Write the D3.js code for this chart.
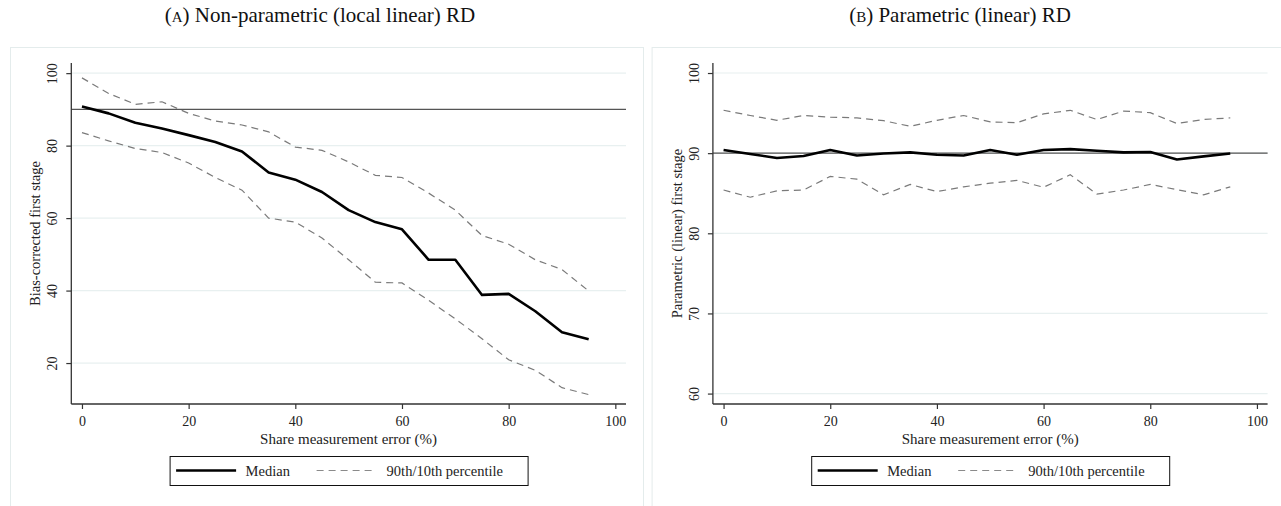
<!DOCTYPE html>
<html lang="en">
<head>
<meta charset="UTF-8">
<title>First stage under measurement error</title>
<script src="https://d3js.org/d3.v7.min.js"></script>
<style>
body { margin: 0; background: #fff; }
svg { display: block; }
</style>
</head>
<body>
<svg id="chart" width="1281" height="506"></svg>
<script>
// share of measurement error (%)
const shares = [0, 5, 10, 15, 20, 25, 30, 35, 40, 45, 50, 55, 60, 65, 70, 75, 80, 85, 90, 95];

// panel A: non-parametric (local linear) RD
const medianA = [90.8, 88.9, 86.3, 84.7, 82.9, 81.0, 78.4, 72.6, 70.6, 67.2, 62.2, 58.9, 56.9, 48.5, 48.5, 38.8, 39.1, 34.3, 28.5, 26.6];
const p90A = [98.7, 94.4, 91.4, 92.1, 88.9, 86.8, 85.7, 83.8, 79.6, 78.7, 75.5, 71.8, 71.2, 66.9, 62.2, 55.2, 52.8, 48.5, 45.8, 39.9];
const p10A = [83.6, 81.3, 79.2, 78.1, 75.2, 71.2, 67.7, 60.0, 58.9, 54.5, 48.5, 42.3, 42.1, 37.3, 32.2, 26.7, 20.9, 18.0, 13.2, 11.3];

// panel B: parametric (linear) RD
const medianB = [90.4, 89.9, 89.4, 89.65, 90.4, 89.7, 89.95, 90.1, 89.8, 89.7, 90.4, 89.8, 90.4, 90.5, 90.3, 90.1, 90.15, 89.2, 89.6, 89.95];
const p90B = [95.35, 94.7, 94.1, 94.7, 94.5, 94.4, 94.05, 93.35, 94.1, 94.7, 93.9, 93.8, 94.9, 95.35, 94.2, 95.25, 95.05, 93.7, 94.2, 94.4];
const p10B = [85.4, 84.5, 85.3, 85.4, 87.1, 86.75, 84.8, 86.1, 85.2, 85.8, 86.25, 86.6, 85.75, 87.3, 84.9, 85.4, 86.1, 85.45, 84.8, 85.8];

const xTicks = [0, 20, 40, 60, 80, 100];
const yTicksA = [20, 40, 60, 80, 100];
const yTicksB = [60, 70, 80, 90, 100];
const refLine = 90;

const SERIF = '"Liberation Serif", "Times New Roman", "DejaVu Serif", serif';

const svg = d3.select('#chart').attr('font-family', SERIF);

let drawPanel = (opts) => {
    const dx = opts.dx;
    const g = svg.append('g').attr('transform', 'translate(' + dx + ',0)');

    // outer frame
    g.append('rect')
        .attr('x', 10.5).attr('y', 47.5)
        .attr('width', 633).attr('height', 470)
        .attr('fill', 'none').attr('stroke', '#e4ecec').attr('stroke-width', 1);

    // title, small-caps letter
    const title = g.append('text')
        .attr('x', 320 - dx + opts.titleX).attr('y', 22)
        .attr('text-anchor', 'middle')
        .attr('font-family', SERIF)
        .attr('font-size', 21).attr('fill', '#111');
    title.append('tspan').text('(');
    title.append('tspan').attr('font-size', 15).text(opts.letter);
    title.append('tspan').text(') ' + opts.title);

    const x = d3.scaleLinear().domain([-2, 102]).range([71.3, 626]);
    const y = d3.scaleLinear().domain(opts.yDomain).range([404, 63]);

    // gridlines
    g.append('g').selectAll('line')
        .data(opts.yTicks)
        .enter().append('line')
        .attr('x1', 71.3).attr('x2', 626)
        .attr('y1', d => y(d)).attr('y2', d => y(d))
        .attr('stroke', '#e8f0f0').attr('stroke-width', 1.2);

    // reference line
    g.append('line')
        .attr('x1', 71.3).attr('x2', 626)
        .attr('y1', y(refLine)).attr('y2', y(refLine))
        .attr('stroke', '#555').attr('stroke-width', 1.3);

    // axes
    const xAxis = g.append('g')
        .attr('transform', 'translate(0,404)')
        .call(d3.axisBottom(x).tickValues(xTicks).tickSize(5).tickPadding(4));
    const yAxis = g.append('g')
        .attr('transform', 'translate(71.3,0)')
        .call(d3.axisLeft(y).tickValues(opts.yTicks).tickSize(5).tickPadding(4));

    [xAxis, yAxis].forEach(ax => {
        ax.attr('font-family', SERIF);
        ax.select('.domain').attr('stroke', '#333').attr('stroke-width', 1.3);
        ax.selectAll('.tick line').attr('stroke', '#333').attr('stroke-width', 1.2);
        ax.selectAll('.tick text').attr('font-size', 14).attr('fill', '#222');
    });
    xAxis.select('.domain').attr('d', 'M71.3,0H626');
    yAxis.select('.domain').attr('d', 'M0,63V404');
    xAxis.selectAll('.tick text').attr('dy', '0.9em');

    // rotated y tick labels
    yAxis.selectAll('.tick text')
        .attr('x', null).attr('dy', null)
        .attr('text-anchor', 'middle')
        .attr('transform', 'translate(-14,0) rotate(-90)');

    // axis titles
    g.append('text')
        .attr('x', 348.6).attr('y', 444)
        .attr('text-anchor', 'middle')
        .attr('font-size', 15).attr('fill', '#222')
        .text('Share measurement error (%)');
    g.append('text')
        .attr('transform', 'translate(40,233.5) rotate(-90)')
        .attr('text-anchor', 'middle')
        .attr('font-size', 14.5).attr('fill', '#222')
        .text(opts.yTitle);

    const line = d3.line()
        .x((d, i) => x(shares[i]))
        .y(d => y(d));

    [opts.p90, opts.p10].forEach(series => {
        g.append('path')
            .datum(series)
            .attr('d', line)
            .attr('fill', 'none')
            .attr('stroke', '#7a7a7a')
            .attr('stroke-width', 1.2)
            .attr('stroke-dasharray', '7,5');
    });

    g.append('path')
        .datum(opts.median)
        .attr('d', line)
        .attr('fill', 'none')
        .attr('stroke', '#000')
        .attr('stroke-width', 2.6)
        .attr('stroke-linejoin', 'round');

    // legend
    const lx = 348.6 - 179;
    const leg = g.append('g').attr('transform', 'translate(' + lx + ',456)');
    leg.append('rect')
        .attr('x', 0.5).attr('y', 0.5)
        .attr('width', 358).attr('height', 29)
        .attr('fill', '#fff').attr('stroke', '#111').attr('stroke-width', 1);
    leg.append('line')
        .attr('x1', 6.5).attr('x2', 66.5).attr('y1', 14.5).attr('y2', 14.5)
        .attr('stroke', '#000').attr('stroke-width', 2.6);
    leg.append('text')
        .attr('x', 76).attr('y', 19.5)
        .attr('font-size', 14.5).attr('fill', '#222')
        .text('Median');
    leg.append('line')
        .attr('x1', 147).attr('x2', 207).attr('y1', 14.5).attr('y2', 14.5)
        .attr('stroke', '#8a8a8a').attr('stroke-width', 1.2)
        .attr('stroke-dasharray', '7,5');
    leg.append('text')
        .attr('x', 217).attr('y', 19.5)
        .attr('font-size', 14.5).attr('fill', '#222')
        .text('90th/10th percentile');
};

drawPanel({
    dx: 0, titleX: 0, letter: 'A', title: 'Non-parametric (local linear) RD',
    yDomain: [8.7, 102.8], yTicks: yTicksA,
    yTitle: 'Bias-corrected first stage',
    median: medianA, p90: p90A, p10: p10A
});

drawPanel({
    dx: 641.6, titleX: 640, letter: 'B', title: 'Parametric (linear) RD',
    yDomain: [58.7, 101.25], yTicks: yTicksB,
    yTitle: 'Parametric (linear) first stage',
    median: medianB, p90: p90B, p10: p10B
});
</script>
</body>
</html>
